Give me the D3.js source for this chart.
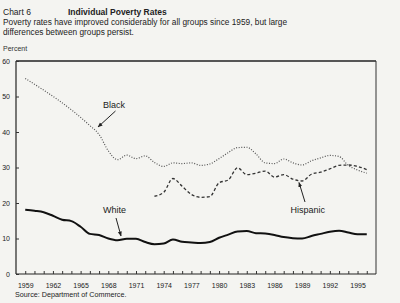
<!DOCTYPE html>
<html>
<head>
<meta charset="utf-8">
<script src="https://cdn.jsdelivr.net/npm/d3@7"></script>
<style>
  body { margin: 0; background: #f4f4f1; }
  svg { display: block; font-family: "Liberation Sans", Arial, sans-serif; }
</style>
</head>
<body>
<div id="chart"></div>
<script>
// poverty rates, percent of persons
let whiteYears = d3.range(1959, 1997);
let whiteRates = [18.1, 17.8, 17.4, 16.4, 15.3, 14.9, 13.3, 11.3, 11.0, 10.0,
    9.5, 9.9, 9.9, 9.0, 8.4, 8.6, 9.7, 9.1, 8.9, 8.7,
    9.0, 10.2, 11.1, 12.0, 12.1, 11.5, 11.4, 11.0, 10.4, 10.1,
    10.0, 10.7, 11.3, 11.9, 12.2, 11.7, 11.2, 11.2];

// no figures for 1960-65, chart just joins 1959 to 1966
let blackYears = [1959].concat(d3.range(1966, 1997));
let blackRates = [55.1, 41.8, 39.3, 34.7, 32.2, 33.5, 32.5, 33.3, 31.4, 30.3,
    31.3, 31.1, 31.3, 30.6, 31.0, 32.5, 34.2, 35.6, 35.7, 33.8,
    31.3, 31.1, 32.4, 31.3, 30.7, 31.9, 32.7, 33.4, 33.1, 30.6,
    29.3, 28.4];

let hispYears = d3.range(1973, 1997);
let hispRates = [21.9, 23.0, 26.9, 24.7, 22.4, 21.6, 21.8, 25.7, 26.5, 29.9,
    28.0, 28.4, 29.0, 27.3, 28.0, 26.7, 26.2, 28.1, 28.7, 29.6,
    30.6, 30.7, 30.3, 29.4];

let yTicks = [0, 10, 20, 30, 40, 50, 60];
let xLabelYears = d3.range(1959, 1997, 3);

let width = 400, height = 303;

let svg = d3.select("#chart").append("svg")
    .attr("width", width)
    .attr("height", height);

// titles
svg.append("text").attr("x", 3).attr("y", 15)
    .attr("font-size", 8.5).attr("fill", "#222").text("Chart  6");
svg.append("text").attr("x", 68).attr("y", 15)
    .attr("font-size", 8.5).attr("font-weight", "bold").attr("fill", "#222")
    .text("Individual Poverty Rates");
svg.append("text").attr("x", 3).attr("y", 24.5)
    .attr("font-size", 8.3).attr("fill", "#222")
    .text("Poverty rates have improved considerably for all groups since 1959, but large");
svg.append("text").attr("x", 3).attr("y", 35)
    .attr("font-size", 8.3).attr("fill", "#222")
    .text("differences between groups persist.");
svg.append("text").attr("x", 3).attr("y", 50.5)
    .attr("font-size", 7).attr("fill", "#333").text("Percent");

let x = d3.scaleLinear().domain([1958, 1997]).range([16, 376]);
let y = d3.scaleLinear().domain([0, 60]).range([274, 61]);

// frame
svg.append("line").attr("x1", 16).attr("x2", 376).attr("y1", 61).attr("y2", 61)
    .attr("stroke", "#222").attr("stroke-width", 1.6);
svg.append("line").attr("x1", 376).attr("x2", 376).attr("y1", 61).attr("y2", 274)
    .attr("stroke", "#333").attr("stroke-width", 1);
svg.append("line").attr("x1", 16).attr("x2", 16).attr("y1", 61).attr("y2", 274)
    .attr("stroke", "#222").attr("stroke-width", 1.2);
svg.append("line").attr("x1", 16).attr("x2", 376).attr("y1", 274).attr("y2", 274)
    .attr("stroke", "#222").attr("stroke-width", 1.2);

// x axis, ticks every year pointing up, labels every 3rd year
let xAxis = svg.append("g")
    .attr("transform", "translate(0,274)")
    .call(d3.axisBottom(x)
        .tickValues(whiteYears)
        .tickSize(-3)
        .tickPadding(9)
        .tickFormat(d => xLabelYears.includes(d) ? d : ""));
xAxis.select(".domain").remove();
xAxis.selectAll("line").attr("stroke", "#333");
xAxis.selectAll("text").attr("font-size", 7).attr("fill", "#222")
    .attr("font-family", "Liberation Sans, Arial, sans-serif");

let yAxis = svg.append("g")
    .attr("transform", "translate(16,0)")
    .call(d3.axisLeft(y)
        .tickValues(yTicks)
        .tickSize(-3)
        .tickPadding(6));
yAxis.select(".domain").remove();
yAxis.selectAll("line").attr("stroke", "#333");
yAxis.selectAll("text").attr("font-size", 7).attr("fill", "#222")
    .attr("font-family", "Liberation Sans, Arial, sans-serif");

svg.append("text").attr("x", 15).attr("y", 297)
    .attr("font-size", 7.2).attr("fill", "#222")
    .text("Source:  Department of Commerce.");

// series lines
let line = d3.line()
    .x(d => x(d[0]))
    .y(d => y(d[1]))
    .curve(d3.curveMonotoneX);

svg.append("path")
    .datum(d3.zip(blackYears, blackRates))
    .attr("d", line)
    .attr("fill", "none")
    .attr("stroke", "#555")
    .attr("stroke-width", 1.2)
    .attr("stroke-dasharray", "1,1.6");

svg.append("path")
    .datum(d3.zip(hispYears, hispRates))
    .attr("d", line)
    .attr("fill", "none")
    .attr("stroke", "#333")
    .attr("stroke-width", 1.3)
    .attr("stroke-dasharray", "3,2.2");

svg.append("path")
    .datum(d3.zip(whiteYears, whiteRates))
    .attr("d", line)
    .attr("fill", "none")
    .attr("stroke", "#111")
    .attr("stroke-width", 2)
    .attr("stroke-linejoin", "round");

// labels with arrows
svg.append("defs").append("marker")
    .attr("id", "arrow")
    .attr("viewBox", "0 0 10 10")
    .attr("refX", 9).attr("refY", 5)
    .attr("markerWidth", 5).attr("markerHeight", 5)
    .attr("orient", "auto")
    .append("path").attr("d", "M0,1L10,5L0,9Z").attr("fill", "#222");

let notes = [
    {text: "Black", tx: 103, ty: 108, x1: 115.5, y1: 111, x2: 98, y2: 127},
    {text: "White", tx: 103, ty: 213, x1: 116, y1: 218, x2: 121, y2: 236},
    {text: "Hispanic", tx: 290.5, ty: 212.5, x1: 305, y1: 202, x2: 299, y2: 182.5}
];

notes.forEach(function (n) {
    svg.append("text").attr("x", n.tx).attr("y", n.ty)
        .attr("font-size", 9).attr("fill", "#1a1a1a")
        .text(n.text);
    svg.append("line")
        .attr("x1", n.x1).attr("y1", n.y1).attr("x2", n.x2).attr("y2", n.y2)
        .attr("stroke", "#222").attr("stroke-width", 1)
        .attr("marker-end", "url(#arrow)");
});
</script>
</body>
</html>
